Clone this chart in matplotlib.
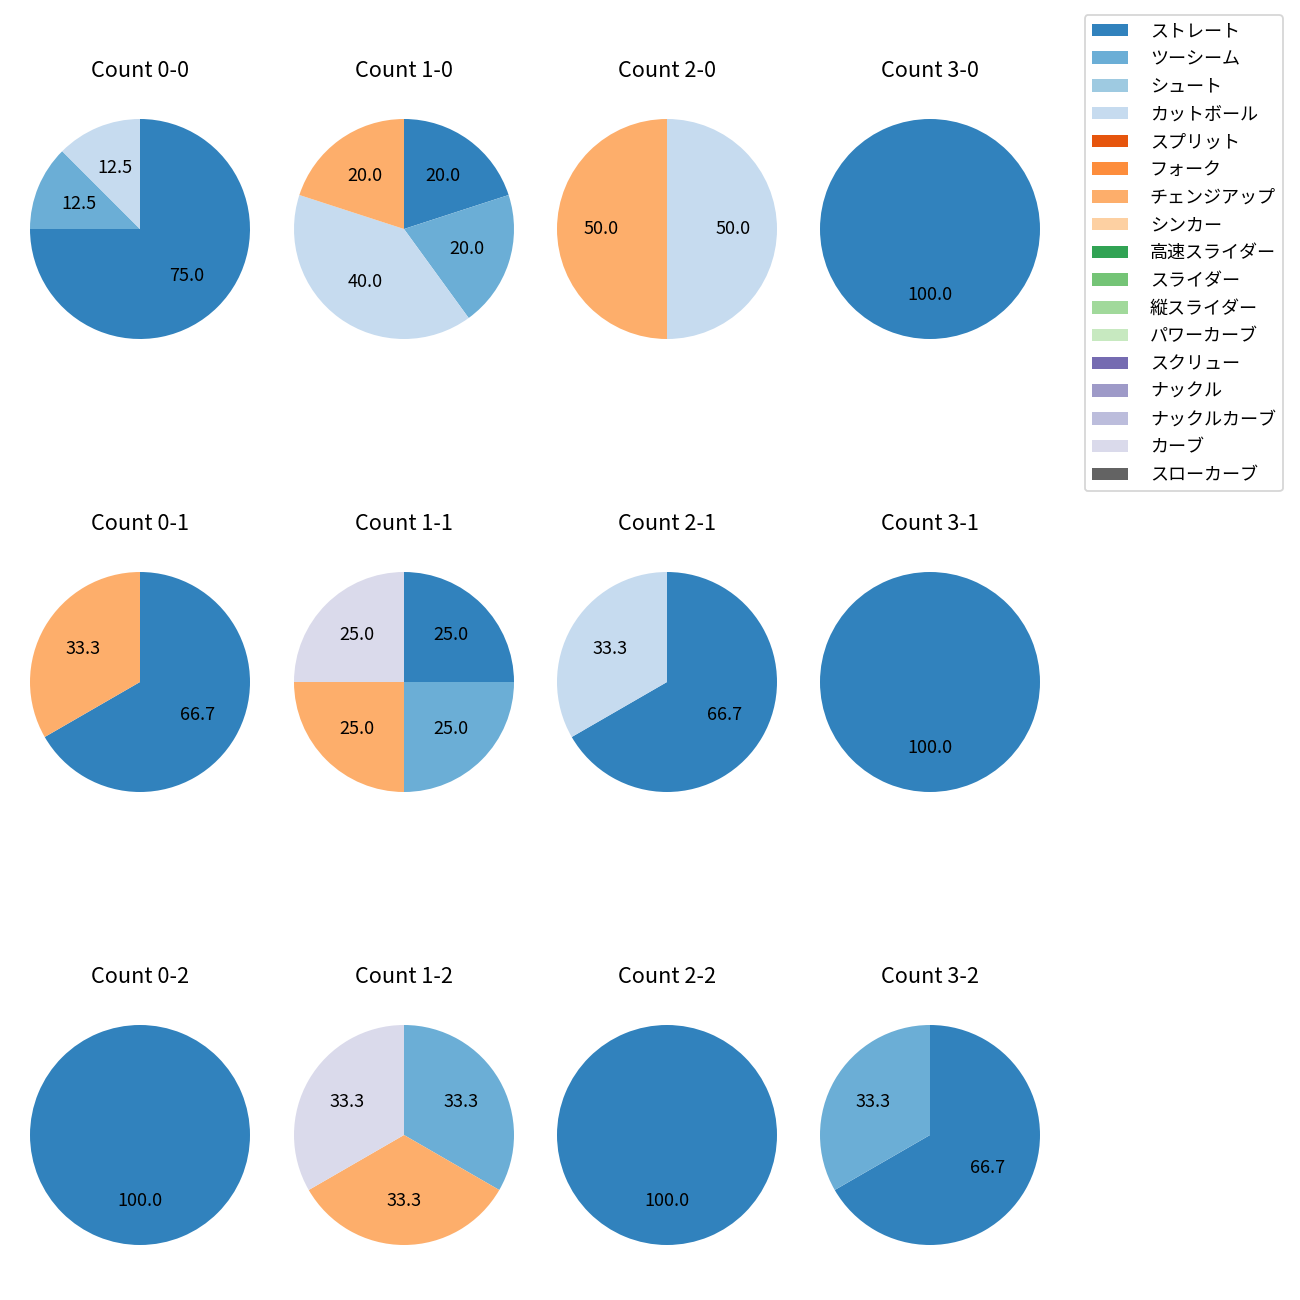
import matplotlib
matplotlib.use("Agg")
import matplotlib.pyplot as plt
from matplotlib.patches import Patch

plt.rcParams['font.family'] = ['Noto Sans CJK JP', 'DejaVu Sans']

pitch_types = ["ストレート", "ツーシーム", "シュート", "カットボール", "スプリット",
               "フォーク", "チェンジアップ", "シンカー", "高速スライダー", "スライダー",
               "縦スライダー", "パワーカーブ", "スクリュー", "ナックル", "ナックルカーブ",
               "カーブ", "スローカーブ"]

# pitches thrown per count (only non-zero entries listed)
count_labels = ["0-0", "1-0", "2-0", "3-0",
                "0-1", "1-1", "2-1", "3-1",
                "0-2", "1-2", "2-2", "3-2"]
count_pitches = {
    "0-0": {"ストレート": 6, "ツーシーム": 1, "カットボール": 1},
    "1-0": {"ストレート": 1, "ツーシーム": 1, "カットボール": 2, "チェンジアップ": 1},
    "2-0": {"カットボール": 1, "チェンジアップ": 1},
    "3-0": {"ストレート": 1},
    "0-1": {"ストレート": 2, "チェンジアップ": 1},
    "1-1": {"ストレート": 1, "ツーシーム": 1, "チェンジアップ": 1, "カーブ": 1},
    "2-1": {"ストレート": 2, "カットボール": 1},
    "3-1": {"ストレート": 1},
    "0-2": {"ストレート": 1},
    "1-2": {"ツーシーム": 1, "チェンジアップ": 1, "カーブ": 1},
    "2-2": {"ストレート": 1},
    "3-2": {"ストレート": 2, "ツーシーム": 1},
}

cmap = plt.get_cmap("tab20c")
colors = [cmap(i) for i in range(len(pitch_types))]

W, H = 1300, 1300
fig = plt.figure(figsize=(10, 10), dpi=130)

col_x = [140, 404, 667, 930]
row_y = [229, 682, 1135]
ax_w, ax_h = 275, 282

for k, c in enumerate(count_labels):
    r, cc = divmod(k, 4)
    cx, cy = col_x[cc], row_y[r]
    ax = fig.add_axes([(cx - ax_w / 2) / W, 1 - (cy + ax_h / 2) / H, ax_w / W, ax_h / H])
    d = count_pitches[c]
    names = [p for p in pitch_types if p in d]
    vals = [d[p] for p in names]
    cols = [colors[pitch_types.index(p)] for p in names]
    ax.pie(vals, colors=cols, autopct="%.1f", startangle=90, counterclock=False)
    ax.set_aspect("auto")
    ax.set_xlim(-1.25, 1.25)
    ax.set_ylim(-1.25 * ax_h / ax_w, 1.25 * ax_h / ax_w)
    ax.set_title("Count " + c, fontsize=12)

handles = [Patch(facecolor=colors[i], label=p) for i, p in enumerate(pitch_types)]
fig.legend(handles=handles, loc="upper right", bbox_to_anchor=(1283 / W, 1 - 15 / H),
           borderaxespad=0, fontsize=10, labelspacing=0.54, handletextpad=1.2)

fig.savefig("out.png")
